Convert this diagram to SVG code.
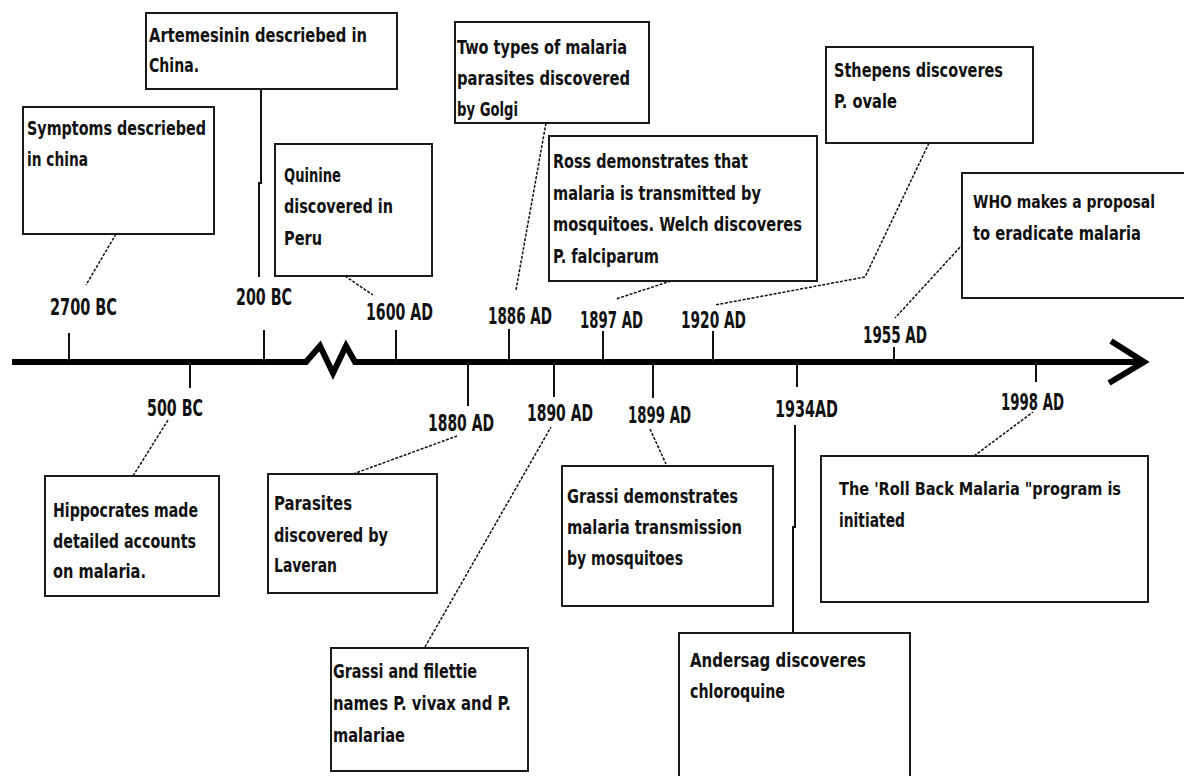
<svg xmlns="http://www.w3.org/2000/svg" width="1184" height="776" viewBox="0 0 1184 776">
<style>
  .bg { fill: #ffffff; }
  .box { fill: #ffffff; stroke: #1a1a1a; stroke-width: 2; }
  .t { font-family: "DejaVu Sans Condensed", "DejaVu Sans", "Liberation Sans", sans-serif; font-weight: bold; font-size: 20px; fill: #111; }
  .ts { font-size: 17px; }
  .lbl { font-family: "DejaVu Sans Condensed", "DejaVu Sans", "Liberation Sans", sans-serif; font-weight: bold; font-size: 23px; fill: #111; }
  .axis { fill: none; stroke: #000; stroke-width: 6; stroke-linejoin: miter; }
  .tick { stroke: #111; stroke-width: 2; fill: none; }
  .c { fill: none; stroke: #111; stroke-width: 1.5; stroke-dasharray: 3 1.5; }
  .cs { fill: none; stroke: #111; stroke-width: 2; }
</style>
<rect class="bg" x="0" y="0" width="1184" height="776"/>

<g id="timeline">
  <polyline class="axis" points="12,362 306,362 320,346 333,373 346,346 355,362 1144,362"/>
  <polyline class="axis" points="1111,341 1144,362 1109,383"/>
  <line class="tick" x1="69" y1="333" x2="69" y2="362"/>
  <line class="tick" x1="264" y1="330" x2="264" y2="362"/>
  <line class="tick" x1="396" y1="330" x2="396" y2="362"/>
  <line class="tick" x1="509" y1="329" x2="509" y2="362"/>
  <line class="tick" x1="603" y1="331" x2="603" y2="362"/>
  <line class="tick" x1="713" y1="331" x2="713" y2="362"/>
  <line class="tick" x1="894" y1="347" x2="894" y2="362"/>
  <line class="tick" x1="190" y1="362" x2="190" y2="388"/>
  <line class="tick" x1="468" y1="362" x2="468" y2="406"/>
  <line class="tick" x1="554" y1="362" x2="554" y2="397"/>
  <line class="tick" x1="653" y1="362" x2="653" y2="398"/>
  <line class="tick" x1="797" y1="362" x2="797" y2="387"/>
  <line class="tick" x1="1036" y1="362" x2="1036" y2="382"/>
  <text class="lbl" x="50" y="315" textLength="67" lengthAdjust="spacingAndGlyphs">2700 BC</text>
  <text class="lbl" x="236" y="305" textLength="56" lengthAdjust="spacingAndGlyphs">200 BC</text>
  <text class="lbl" x="366" y="320" textLength="67" lengthAdjust="spacingAndGlyphs">1600 AD</text>
  <text class="lbl" x="488" y="324" textLength="64" lengthAdjust="spacingAndGlyphs">1886 AD</text>
  <text class="lbl" x="580" y="328" textLength="63" lengthAdjust="spacingAndGlyphs">1897 AD</text>
  <text class="lbl" x="681" y="328" textLength="65" lengthAdjust="spacingAndGlyphs">1920 AD</text>
  <text class="lbl" x="863" y="343" textLength="64" lengthAdjust="spacingAndGlyphs">1955 AD</text>
  <text class="lbl" x="147" y="416" textLength="56" lengthAdjust="spacingAndGlyphs">500 BC</text>
  <text class="lbl" x="428" y="431" textLength="66" lengthAdjust="spacingAndGlyphs">1880 AD</text>
  <text class="lbl" x="527" y="421" textLength="66" lengthAdjust="spacingAndGlyphs">1890 AD</text>
  <text class="lbl" x="628" y="423" textLength="63" lengthAdjust="spacingAndGlyphs">1899 AD</text>
  <text class="lbl" x="775" y="417" textLength="63" lengthAdjust="spacingAndGlyphs">1934AD</text>
  <text class="lbl" x="1001" y="410" textLength="63" lengthAdjust="spacingAndGlyphs">1998 AD</text>
</g>

<g id="connectors">
  <line class="c" x1="116" y1="234" x2="86" y2="285"/>
  <polyline class="cs" points="261,89 261,183 259,183 259,277"/>
  <line class="c" x1="345" y1="276" x2="373" y2="295"/>
  <line class="c" x1="546" y1="123" x2="516" y2="290"/>
  <line class="c" x1="671" y1="281" x2="616" y2="299"/>
  <polyline class="c" points="929,143 865,277 715,305"/>
  <line class="c" x1="963" y1="244" x2="895" y2="318"/>
  <line class="c" x1="133" y1="476" x2="168" y2="420"/>
  <line class="c" x1="353" y1="474" x2="457" y2="436"/>
  <line class="c" x1="425" y1="647" x2="551" y2="427"/>
  <line class="c" x1="650" y1="429" x2="666" y2="464"/>
  <polyline class="cs" points="795,425 795,527 793,527 793,633"/>
  <line class="c" x1="974" y1="456" x2="1033" y2="412"/>
</g>

<g id="n-symptoms">
  <rect class="box" x="23" y="107" width="191" height="127"/>
  <text class="t" x="27" y="135" textLength="179" lengthAdjust="spacingAndGlyphs">Symptoms descriebed</text>
  <text class="t" x="27" y="166" textLength="61" lengthAdjust="spacingAndGlyphs">in china</text>
</g>
<g id="n-artemesinin">
  <rect class="box" x="146" y="13" width="251" height="76"/>
  <text class="t" x="149" y="42" textLength="218" lengthAdjust="spacingAndGlyphs">Artemesinin descriebed in</text>
  <text class="t" x="149" y="72" textLength="50" lengthAdjust="spacingAndGlyphs">China.</text>
</g>
<g id="n-quinine">
  <rect class="box" x="275" y="144" width="157" height="132"/>
  <text class="t" x="284" y="182" textLength="57" lengthAdjust="spacingAndGlyphs">Quinine</text>
  <text class="t" x="284" y="213" textLength="109" lengthAdjust="spacingAndGlyphs">discovered in</text>
  <text class="t" x="284" y="245" textLength="38" lengthAdjust="spacingAndGlyphs">Peru</text>
</g>
<g id="n-golgi">
  <rect class="box" x="455" y="22" width="194" height="101"/>
  <text class="t" x="457" y="54" textLength="170" lengthAdjust="spacingAndGlyphs">Two types of malaria</text>
  <text class="t" x="457" y="85" textLength="173" lengthAdjust="spacingAndGlyphs">parasites discovered</text>
  <text class="t" x="457" y="116" textLength="61" lengthAdjust="spacingAndGlyphs">by Golgi</text>
</g>
<g id="n-ross">
  <rect class="box" x="549" y="136" width="268" height="145"/>
  <text class="t" x="553" y="168" textLength="195" lengthAdjust="spacingAndGlyphs">Ross demonstrates that</text>
  <text class="t" x="553" y="200" textLength="208" lengthAdjust="spacingAndGlyphs">malaria is transmitted by</text>
  <text class="t" x="553" y="231" textLength="249" lengthAdjust="spacingAndGlyphs">mosquitoes. Welch discoveres</text>
  <text class="t" x="553" y="263" textLength="106" lengthAdjust="spacingAndGlyphs">P. falciparum</text>
</g>
<g id="n-sthepens">
  <rect class="box" x="826" y="47" width="207" height="96"/>
  <text class="t" x="834" y="77" textLength="169" lengthAdjust="spacingAndGlyphs">Sthepens discoveres</text>
  <text class="t" x="834" y="108" textLength="63" lengthAdjust="spacingAndGlyphs">P. ovale</text>
</g>
<g id="n-who">
  <path class="box" d="M1184,173 H962 V298 H1184"/>
  <text class="t ts" x="973" y="208" textLength="182" lengthAdjust="spacingAndGlyphs">WHO makes a proposal</text>
  <text class="t" x="973" y="240" textLength="168" lengthAdjust="spacingAndGlyphs">to eradicate malaria</text>
</g>
<g id="n-hippocrates">
  <rect class="box" x="45" y="476" width="174" height="120"/>
  <text class="t" x="53" y="517" textLength="145" lengthAdjust="spacingAndGlyphs">Hippocrates made</text>
  <text class="t" x="53" y="548" textLength="143" lengthAdjust="spacingAndGlyphs">detailed accounts</text>
  <text class="t" x="53" y="578" textLength="93" lengthAdjust="spacingAndGlyphs">on malaria.</text>
</g>
<g id="n-laveran">
  <rect class="box" x="268" y="474" width="169" height="119"/>
  <text class="t" x="274" y="510" textLength="78" lengthAdjust="spacingAndGlyphs">Parasites</text>
  <text class="t" x="274" y="542" textLength="114" lengthAdjust="spacingAndGlyphs">discovered by</text>
  <text class="t" x="274" y="572" textLength="63" lengthAdjust="spacingAndGlyphs">Laveran</text>
</g>
<g id="n-filettie">
  <rect class="box" x="331" y="648" width="197" height="123"/>
  <text class="t" x="333" y="678" textLength="144" lengthAdjust="spacingAndGlyphs">Grassi and filettie</text>
  <text class="t" x="333" y="710" textLength="178" lengthAdjust="spacingAndGlyphs">names P. vivax and P.</text>
  <text class="t" x="333" y="742" textLength="72" lengthAdjust="spacingAndGlyphs">malariae</text>
</g>
<g id="n-grassi">
  <rect class="box" x="562" y="466" width="211" height="140"/>
  <text class="t" x="567" y="503" textLength="171" lengthAdjust="spacingAndGlyphs">Grassi demonstrates</text>
  <text class="t" x="567" y="534" textLength="175" lengthAdjust="spacingAndGlyphs">malaria transmission</text>
  <text class="t" x="567" y="565" textLength="116" lengthAdjust="spacingAndGlyphs">by mosquitoes</text>
</g>
<g id="n-andersag">
  <path class="box" d="M679,776 V633 H910 V776"/>
  <text class="t" x="690" y="667" textLength="176" lengthAdjust="spacingAndGlyphs">Andersag discoveres</text>
  <text class="t" x="690" y="698" textLength="95" lengthAdjust="spacingAndGlyphs">chloroquine</text>
</g>
<g id="n-rollback">
  <rect class="box" x="821" y="456" width="327" height="146"/>
  <text class="t ts" x="839" y="495" textLength="282" lengthAdjust="spacingAndGlyphs">The 'Roll Back Malaria "program is</text>
  <text class="t" x="839" y="527" textLength="66" lengthAdjust="spacingAndGlyphs">initiated</text>
</g>
</svg>
